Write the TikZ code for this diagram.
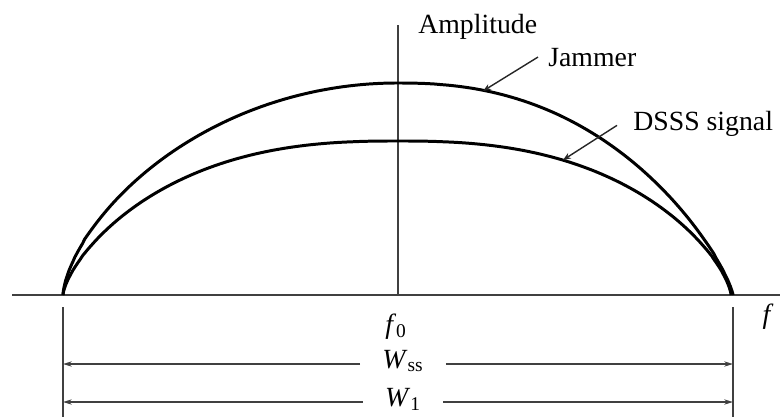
\documentclass[tikz,border=0pt]{standalone}
\usepackage{fontspec}
\setmainfont{Liberation Serif}
\usetikzlibrary{arrows.meta,positioning,calc}

\begin{document}
\begin{tikzpicture}[
  x=0.02cm, y=-0.02cm,
  axis/.style={line width=0.85pt, black!75},
  curve/.style={line width=1.7pt, black, line join=round},
  pointer/.style={-{Stealth[length=4.5pt,width=3.5pt]}, line width=0.8pt, black!85},
  dim/.style={-{Stealth[length=5pt,width=3pt]}, line width=0.85pt, black!75},
  lbl/.style={inner sep=0pt, font=\rmfamily\fontsize{15.8}{19}\selectfont},
  wlbl/.style={lbl, anchor=mid, inner xsep=12.5pt}
]
  \useasboundingbox (0,0) rectangle (780,416);

  % Axes
  \coordinate (xL) at (12,295);
  \coordinate (xR) at (780,295);
  \coordinate (yB) at (398,295);
  \coordinate (yT) at (398,25);
  \draw[axis] (xL) -- (xR);
  \draw[axis] (yB) -- (yT);

  % Band edges
  \coordinate (eLt) at (63,307);
  \coordinate (eLb) at (63,420);
  \coordinate (eRt) at (733,307);
  \coordinate (eRb) at (733,420);
  \draw[axis] (eLt) -- (eLb);
  \draw[axis] (eRt) -- (eRb);

  % Spectra (u = sin t across each half band)
  \coordinate (jL) at (63,295);
  \coordinate (jR) at (733,295);
  \coordinate (sR) at (731,295);
  \draw[curve] (jL)
    -- plot[domain=89.5:0.5, samples=80]
       ({398-335*sin(\x)}, {295-212*pow(1-pow(sin(\x),2),0.65)})
    -- plot[domain=0.5:89.5, samples=80]
       ({398+335*sin(\x)}, {295-212*pow(1-pow(sin(\x),2.3),0.8)})
    -- (jR);
  \draw[curve] (jL)
    -- plot[domain=89.5:0.5, samples=80]
       ({398-335*sin(\x)}, {295-154*pow(1-pow(sin(\x),2.5),0.7)})
    -- plot[domain=0.5:89.5, samples=80]
       ({398+333*sin(\x)}, {295-154*pow(1-pow(sin(\x),2.5),0.7)})
    -- (sR);

  % Labels
  \node[lbl, anchor=base west] (amp) at (418,33) {Amplitude};
  \node[lbl, anchor=base west] (jam) at (548,66) {Jammer};
  \node[lbl, anchor=base west] (dsss) at (633,130) {DSSS signal};
  \node[lbl, anchor=base] (f0) at (396,333) {\textit{f}\textsubscript{0}};
  \node[lbl, anchor=base] (f) at (768,323) {\textit{f}};

  % Pointers
  \coordinate (jamTip) at (483,91);
  \coordinate (dsssTip) at (563,160);
  \draw[pointer] ($(jam.west)+(-10,0)$) -- (jamTip);
  \draw[pointer] ($(dsss.west)+(-16,2)$) -- (dsssTip);

  % Bandwidths
  \node[wlbl] (wss) at (403,364) {\textit{W}\textsubscript{ss}};
  \node[wlbl] (w1) at (403,402) {\textit{W}\textsubscript{1}};
  \foreach \w in {wss,w1} {
    \draw[dim] (\w.mid west) -- (\w.mid west -| eLt);
    \draw[dim] (\w.mid east) -- (\w.mid east -| eRt);
  }
\end{tikzpicture}
\end{document}
